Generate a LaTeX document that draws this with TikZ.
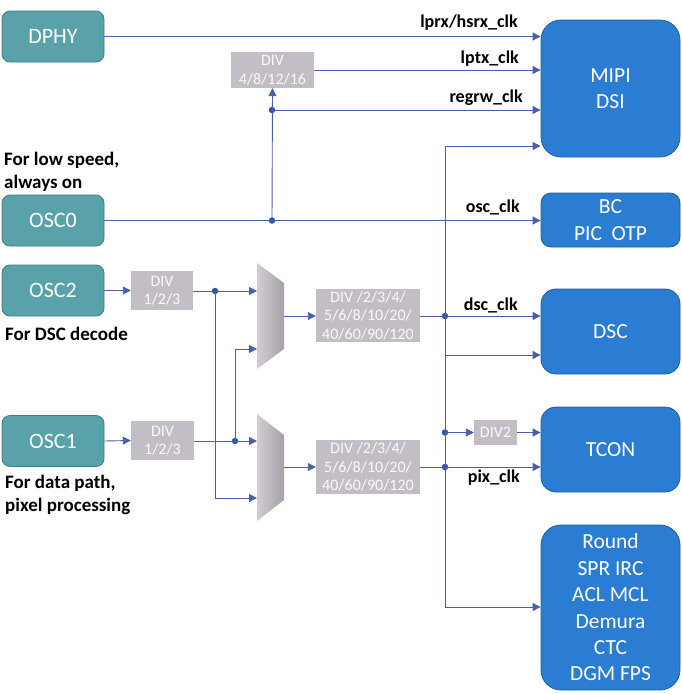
\documentclass[tikz,border=0pt]{standalone}
\usepackage{fontspec}
\setmainfont{Carlito}
\usetikzlibrary{arrows.meta,calc}
\definecolor{tealf}{HTML}{5AA2AA}
\definecolor{teald}{HTML}{3E7E86}
\definecolor{bluef}{HTML}{2B7CD3}
\definecolor{blued}{HTML}{20609F}
\definecolor{divf}{HTML}{C3BDC5}
\definecolor{wire}{HTML}{4A5FA8}
\definecolor{dotc}{HTML}{2B56A0}
\tikzset{
  osc/.style={draw=teald, line width=0.8pt, fill=tealf, rounded corners=8pt, minimum width=102pt, minimum height=51pt, inner sep=0pt, text=white, font=\fontsize{22}{26}\selectfont},
  blk/.style={draw=blued, line width=0.8pt, fill=bluef, text=white, inner sep=0pt, align=center, font=\fontsize{21.5}{26.4}\selectfont},
  divbox/.style={fill=divf, text=white!92!divf, inner sep=0pt, align=center, font=\fontsize{16}{18.5}\selectfont},
  lbl/.style={font=\bfseries\fontsize{18}{21}\selectfont, inner sep=0pt, anchor=base east},
  note/.style={font=\bfseries\fontsize{19}{22.5}\selectfont, align=left, inner sep=0pt, anchor=base west},
  wl/.style={draw=wire, line width=0.9pt},
  wa/.style={draw=wire, line width=0.9pt, -{Triangle[length=8pt,width=8pt]}},
  jdot/.style={circle, fill=dotc, minimum size=6.5pt, inner sep=0pt},
  muxshade/.style={left color=divf!75!white, right color=divf!85!black}
}
\begin{document}
\begin{tikzpicture}[x=1pt,y=-1pt]
\useasboundingbox (0,0) rectangle (681,694);
% source blocks
\node[osc] (dphy) at (53,36.5) {DPHY};
\node[osc] (osc0) at (53,220.5) {OSC0};
\node[osc] (osc2) at (53,290.5) {OSC2};
\node[osc] (osc1) at (53,441) {OSC1};
% notes (base anchor = last line)
\node[note] (n0) at (4,188) {For low speed,\\always on};
\node[note] (n2) at (5,340) {For DSC decode};
\node[note] (n1) at (5,511) {For data path,\\pixel processing};
% destination blocks
\node[blk, rounded corners=20pt, minimum width=139pt, minimum height=137pt] (mipi) at (610.5,88.5) {MIPI\\DSI};
\node[blk, rounded corners=10pt, minimum width=139pt, minimum height=54pt] (bc) at (610.5,220) {BC\\PIC\ \ OTP};
\node[blk, rounded corners=15pt, minimum width=139pt, minimum height=85pt] (dsc) at (610.5,331.5) {DSC};
\node[blk, rounded corners=15pt, minimum width=139pt, minimum height=85pt] (tcon) at (610.5,449.5) {TCON};
\node[blk, rounded corners=20pt, minimum width=139pt, minimum height=165pt] (rnd) at (610.5,607.5) {Round\\SPR IRC\\ACL MCL\\Demura\\CTC\\DGM FPS};
% dividers
\node[divbox, minimum width=83pt, minimum height=36pt] (div4) at (272.5,70) {DIV\\4/8/12/16};
\node[divbox, minimum width=62pt, minimum height=39pt] (diva) at (162,290.5) {DIV\\1/2/3};
\node[divbox, minimum width=63pt, minimum height=39pt] (divb) at (162.5,440.5) {DIV\\1/2/3};
\node[divbox, minimum width=104pt, minimum height=53pt] (divc) at (368,315.5) {DIV /2/3/4/\\5/6/8/10/20/\\40/60/90/120};
\node[divbox, minimum width=104pt, minimum height=54pt] (divd) at (368,467) {DIV /2/3/4/\\5/6/8/10/20/\\40/60/90/120};
\node[divbox, minimum width=43pt, minimum height=25pt] (div2) at (495.5,432.5) {DIV2};
% muxes
\shade[muxshade] (257,263) -- (284,283) -- (284,349) -- (257,369) -- cycle;
\shade[muxshade] (257,414) -- (284,435) -- (284,500) -- (257,521) -- cycle;
\coordinate (m1a) at (257,291);
\coordinate (m1b) at (257,349);
\coordinate (m1o) at (284,316);
\coordinate (m2a) at (257,441);
\coordinate (m2b) at (257,498);
\coordinate (m2o) at (284,467);
% top connections
\draw[wa] (dphy.east) -- (dphy.east -| mipi.west);
\node[lbl] (l1) at (518,27) {lprx/hsrx\_clk};
\draw[wa] (div4.east) -- (div4.east -| mipi.west);
\node[lbl] (l2) at (519,63) {lptx\_clk};
\node[jdot] (j0) at (272,220.5) {};
\node[jdot] (j1) at (272,110) {};
\draw[wa] (osc0.east) -- (osc0.east -| bc.west);
\node[lbl] (l4) at (520,212) {osc\_clk};
\draw[wa] (j0.center) -- (div4.south);
\draw[wa] (j1.center) -- (j1.center -| mipi.west);
\node[lbl] (l3) at (523,102) {regrw\_clk};
% OSC2 / OSC1 paths
\draw[wa] (osc2.east) -- (diva.west);
\draw[wa] (osc1.east) -- (divb.west);
\node[jdot] (j2) at (215,291) {};
\node[jdot] (j3) at (235,441) {};
\draw[wa] (diva.east |- m1a) -- (m1a);
\draw[wa] (divb.east |- m2a) -- (m2a);
\draw[wa] (j2.center) |- (m2b);
\draw[wa] (j3.center) |- (m1b);
\draw[wa] (m1o) -- (m1o -| divc.west);
\draw[wa] (m2o) -- (m2o -| divd.west);
% outputs
\node[jdot] (j4) at (445,316) {};
\node[jdot] (j5) at (445,467) {};
\node[jdot] (j6) at (445,432.5) {};
\draw[wa] (divc.east |- j4) -- (j4 -| dsc.west);
\node[lbl] (l5) at (518,310) {dsc\_clk};
\draw[wa] (divd.east |- j5) -- (j5 -| tcon.west);
\node[lbl] (l6) at (520,482) {pix\_clk};
\coordinate (bt) at (445,146);
\coordinate (bd) at (445,355);
\coordinate (bb) at (445,607);
\draw[wl] (bt) -- (bb);
\draw[wa] (bt) -- (bt -| mipi.west);
\draw[wa] (bd) -- (bd -| dsc.west);
\draw[wa] (bb) -- (bb -| rnd.west);
\draw[wa] (j6.center) -- (div2.west);
\draw[wa] (div2.east) -- (div2.east -| tcon.west);
\end{tikzpicture}
\end{document}
